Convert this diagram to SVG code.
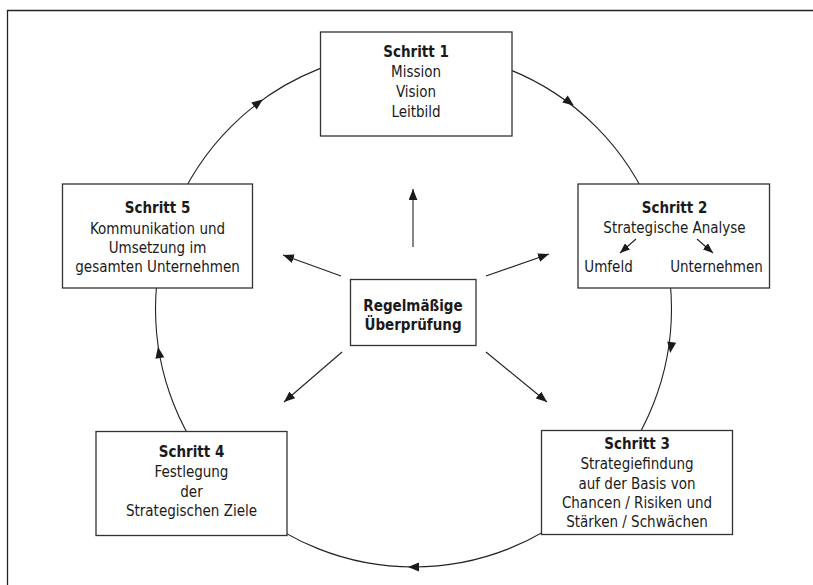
<svg xmlns="http://www.w3.org/2000/svg" width="813" height="585" viewBox="0 0 813 585">
<style>
text{font-family:"DejaVu Sans Condensed","DejaVu Sans",sans-serif;font-size:15px;fill:#1a1a1a;text-anchor:middle}
.b{font-weight:bold}
.box{fill:#fff;stroke:#333;stroke-width:1.3}
.ln{fill:none;stroke:#222;stroke-width:1.1}
.ah{fill:#1a1a1a}
</style>
<defs>
<marker id="arr" viewBox="0 0 10 8" refX="10" refY="4" markerWidth="11" markerHeight="9" markerUnits="userSpaceOnUse" orient="auto"><path d="M0,0 L10,4 L0,8 Z" fill="#1a1a1a"/></marker>
<marker id="arrs" viewBox="0 0 10 8" refX="10" refY="4" markerWidth="10" markerHeight="8" markerUnits="userSpaceOnUse" orient="auto"><path d="M0,0 L10,4 L0,8 Z" fill="#1a1a1a"/></marker>
<path id="ch" d="M6,0 L-5,-4.5 L-5,4.5 Z"/>
</defs>
<rect x="0" y="0" width="813" height="585" fill="#fff"/>
<path d="M7.5,590 V10.5 H820" fill="none" stroke="#222" stroke-width="1.3"/>
<g id="connectors">
<circle class="ln" cx="413.5" cy="309" r="258"/>
<use href="#ch" class="ah" transform="translate(258,103) rotate(-37)"/>
<use href="#ch" class="ah" transform="translate(569,102) rotate(37)"/>
<use href="#ch" class="ah" transform="translate(671,347) rotate(98)"/>
<use href="#ch" class="ah" transform="translate(414,567) rotate(180)"/>
<use href="#ch" class="ah" transform="translate(159,353) rotate(260)"/>
<line class="ln" x1="413" y1="247" x2="413" y2="189" marker-end="url(#arr)"/>
<line class="ln" x1="341" y1="276" x2="283" y2="255" marker-end="url(#arr)"/>
<line class="ln" x1="486" y1="276" x2="549" y2="254" marker-end="url(#arr)"/>
<line class="ln" x1="342" y1="352" x2="284" y2="402" marker-end="url(#arr)"/>
<line class="ln" x1="486" y1="352" x2="547" y2="402" marker-end="url(#arr)"/>
</g>
<g id="schritt1">
<rect class="box" x="320.5" y="32" width="191.5" height="104"/>
<text x="416" y="57" class="b">Schritt 1</text>
<text x="416" y="77">Mission</text>
<text x="416" y="97">Vision</text>
<text x="416" y="117">Leitbild</text>
</g>
<g id="schritt2">
<rect class="box" x="578" y="184" width="191.5" height="104"/>
<text x="674.5" y="213" class="b">Schritt 2</text>
<text x="674.5" y="232.5">Strategische Analyse</text>
<line class="ln" x1="636" y1="239" x2="620" y2="253" marker-end="url(#arrs)"/>
<line class="ln" x1="697" y1="239" x2="713" y2="253" marker-end="url(#arrs)"/>
<text x="608.5" y="272">Umfeld</text>
<text x="716.5" y="272">Unternehmen</text>
</g>
<g id="schritt3">
<rect class="box" x="541.5" y="430.5" width="191" height="104"/>
<text x="637" y="448.5" class="b">Schritt 3</text>
<text x="637" y="469">Strategiefindung</text>
<text x="637" y="488.5">auf der Basis von</text>
<text x="637" y="507.5">Chancen / Risiken und</text>
<text x="637" y="527">Stärken / Schwächen</text>
</g>
<g id="schritt4">
<rect class="box" x="96" y="431.5" width="191" height="104"/>
<text x="191.5" y="457" class="b">Schritt 4</text>
<text x="191.5" y="477">Festlegung</text>
<text x="191.5" y="496.5">der</text>
<text x="191.5" y="516">Strategischen Ziele</text>
</g>
<g id="schritt5">
<rect class="box" x="62.5" y="184" width="190" height="104"/>
<text x="157.5" y="213" class="b">Schritt 5</text>
<text x="157.5" y="233.5">Kommunikation und</text>
<text x="157.5" y="253">Umsetzung im</text>
<text x="157.5" y="272">gesamten Unternehmen</text>
</g>
<g id="center">
<rect class="box" x="350.5" y="279.5" width="125.5" height="66"/>
<text x="413" y="310.5" class="b">Regelmäßige</text>
<text x="413" y="329.5" class="b">Überprüfung</text>
</g>
</svg>
